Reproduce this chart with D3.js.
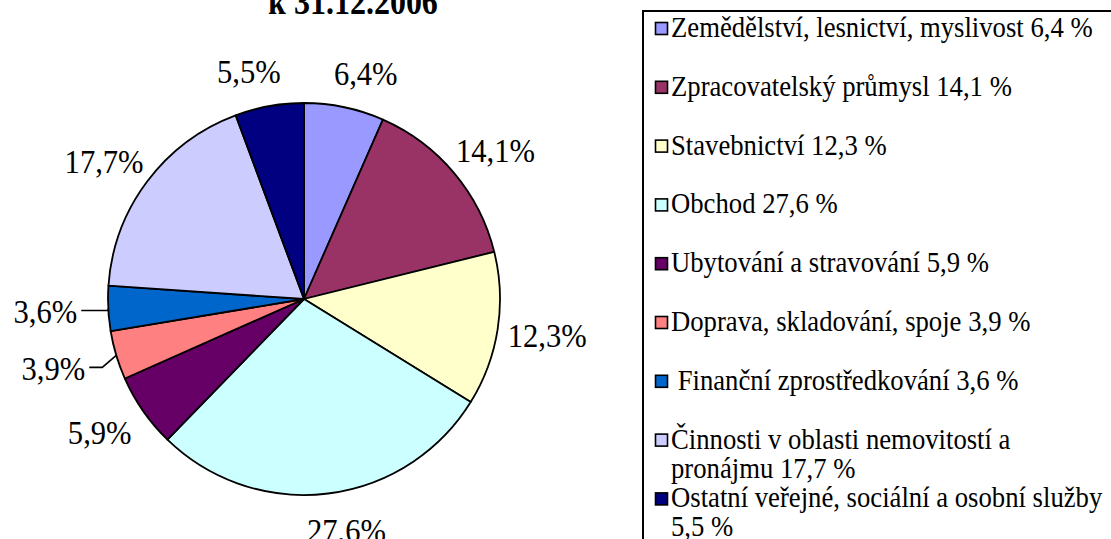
<!DOCTYPE html>
<html>
<head>
<meta charset="utf-8">
<script src="https://cdn.jsdelivr.net/npm/d3@7"></script>
<style>
    body { margin: 0; background: #ffffff; }
    svg { display: block; }
</style>
</head>
<body>
<div id="chartId"></div>
<script>

const TITLE = "k 31.12.2006"

const categories = [
    "Zemědělství, lesnictví, myslivost",
    "Zpracovatelský průmysl",
    "Stavebnictví",
    "Obchod",
    "Ubytování a stravování",
    "Doprava, skladování, spoje",
    "Finanční zprostředkování",
    "Činnosti v oblasti nemovitostí a pronájmu",
    "Ostatní veřejné, sociální a osobní služby"
]
const values = [6.4, 14.1, 12.3, 27.6, 5.9, 3.9, 3.6, 17.7, 5.5]
const valueLabels = ["6,4%", "14,1%", "12,3%", "27,6%", "5,9%", "3,9%", "3,6%", "17,7%", "5,5%"]
// legend texts as shown in the picture, one array per entry (wrapped lines)
const legendLabels = [
    ["Zemědělství, lesnictví, myslivost 6,4 %"],
    ["Zpracovatelský průmysl 14,1 %"],
    ["Stavebnictví 12,3 %"],
    ["Obchod 27,6 %"],
    ["Ubytování a stravování 5,9 %"],
    ["Doprava, skladování, spoje 3,9 %"],
    [" Finanční zprostředkování 3,6 %"],
    ["Činnosti v oblasti nemovitostí a", "pronájmu 17,7 %"],
    ["Ostatní veřejné, sociální a osobní služby", "5,5 %"]
]

// excel's old default pie palette
const COLORS = ["#9999ff", "#993366", "#ffffcc", "#ccffff", "#660066", "#ff8080", "#0066cc", "#ccccff", "#000080"]

const FONT = "'Liberation Serif', 'Times New Roman', Times, 'DejaVu Serif', serif"
const WIDTH = 1111
const HEIGHT = 539
const CX = 304
const CY = 299
const RADIUS = 196
const LABEL_RADIUS = 232
const LABEL_PUSH = 14
const STRETCH = 1.11   // text in the picture is a bit taller than wide
const LABEL_FONT = 30.6
const LEGEND_FONT = 26.7

// the two small slices have their labels pulled out with a leader line
const LEADERS = {
    5: { elbow: [-14, 12], end: -27 },
    6: { elbow: [0, 2], end: -27 }
}

let svg = d3.select("div#chartId")
    .append("svg")
    .attr("width", WIDTH)
    .attr("height", HEIGHT)
    .attr("viewBox", "0 0 " + WIDTH + " " + HEIGHT)

function stretchedText(parent, x, y) {
    return parent.append("g")
        .attr("transform", "translate(" + x + "," + y + ") scale(1," + STRETCH + ")")
        .append("text")
        .attr("font-family", FONT)
        .style("font-family", FONT)
        .attr("fill", "#000000")
}

// title (the first line is cut off in the original)
stretchedText(svg, 353, 13.5)
    .attr("text-anchor", "middle")
    .style("font-size", "32px")
    .style("font-weight", "bold")
    .text(TITLE)

let pie = d3.pie().sort(null).value(d => d)
let arcs = pie(values)
let arc = d3.arc().innerRadius(0).outerRadius(RADIUS)

let pieGroup = svg.append("g").attr("transform", "translate(" + CX + "," + CY + ")")

pieGroup.selectAll("path.slice")
    .data(arcs)
    .join("path")
    .attr("class", "slice")
    .attr("d", arc)
    .attr("fill", (d, i) => COLORS[i])
    .attr("stroke", "#000000")
    .attr("stroke-width", 1.8)
    .attr("stroke-linejoin", "round")

let edgeArc = d3.arc().innerRadius(RADIUS).outerRadius(RADIUS)
let labelArc = d3.arc().innerRadius(LABEL_RADIUS).outerRadius(LABEL_RADIUS)

arcs.forEach((d, i) => {
    let mid = (d.startAngle + d.endAngle) / 2
    let leader = LEADERS[i]
    if (leader) {
        let [sx, sy] = edgeArc.centroid(d)
        let ex = sx + leader.elbow[0]
        let ey = sy + leader.elbow[1]
        let lx = sx + leader.end
        pieGroup.append("path")
            .attr("d", "M" + sx + "," + sy + "L" + ex + "," + ey + "L" + lx + "," + ey)
            .attr("fill", "none")
            .attr("stroke", "#000000")
            .attr("stroke-width", 1.6)
        stretchedText(pieGroup, lx - 4, ey)
            .attr("text-anchor", "end")
            .attr("dy", "0.37em")
            .style("font-size", LABEL_FONT + "px")
            .text(valueLabels[i])
    } else {
        let [lx, ly] = labelArc.centroid(d)
        lx += Math.sign(Math.sin(mid)) * LABEL_PUSH
        stretchedText(pieGroup, lx, ly)
            .attr("text-anchor", "middle")
            .attr("dy", "0.37em")
            .style("font-size", LABEL_FONT + "px")
            .text(valueLabels[i])
    }
})

// legend
let legendX = 643
let legendY = 11
let rowStep = 58.8
let lineStep = 29
let firstBaseline = 37

let legend = svg.append("g")
legend.append("rect")
    .attr("x", legendX)
    .attr("y", legendY)
    .attr("width", 600)
    .attr("height", 600)
    .attr("fill", "#ffffff")
    .attr("stroke", "#000000")
    .attr("stroke-width", 2)

legendLabels.forEach((lines, i) => {
    let baseline = firstBaseline + i * rowStep
    legend.append("rect")
        .attr("x", 655.5)
        .attr("y", baseline - 14.5)
        .attr("width", 12)
        .attr("height", 12)
        .attr("fill", COLORS[i])
        .attr("stroke", "#000000")
        .attr("stroke-width", 1.6)
    lines.forEach((line, j) => {
        stretchedText(legend, 671, baseline + j * lineStep)
            .style("font-size", LEGEND_FONT + "px")
            .style("white-space", "pre")
            .text(line)
    })
})

</script>
</body>
</html>
